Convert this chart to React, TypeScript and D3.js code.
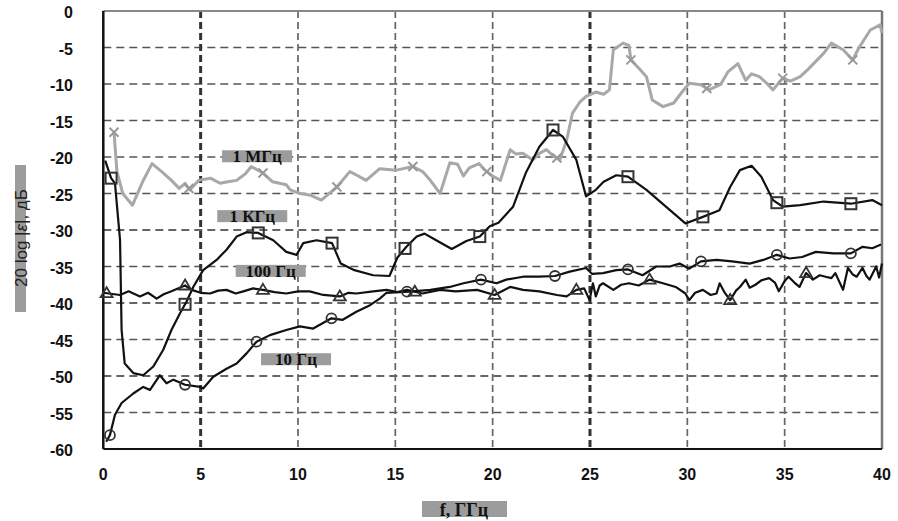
import { useEffect } from 'react'
import * as d3 from 'd3'

type Pt = [number, number]

const xTicks = [0, 5, 10, 15, 20, 25, 30, 35, 40]
const yTicks = [0, -5, -10, -15, -20, -25, -30, -35, -40, -45, -50, -55, -60]

// 1 MHz (gray, x markers)
const mhz1: Pt[] = [
  [0.55, -16.6], [0.7, -22], [1.0, -25], [1.5, -26.6], [2.0, -23.5], [2.5, -20.9],
  [3.0, -22], [3.5, -23.2], [3.9, -24.3], [4.2, -23.6], [4.45, -24.5], [4.9, -23.2],
  [5.5, -22.9], [6.0, -23.6], [6.4, -23.4], [6.85, -23.2], [7.3, -22.3], [7.6, -21.3],
  [8.2, -22.2], [8.7, -23.4], [9.4, -23.8], [9.6, -24.5], [10.1, -25.0], [10.6, -25.2],
  [11.2, -25.9], [12.0, -24.1], [12.66, -22.0], [13.1, -22.6], [13.5, -23.2], [14.2, -21.6],
  [15.06, -21.8], [15.9, -21.3], [16.4, -22.0], [16.8, -23.2], [17.3, -25.0], [17.8, -20.8],
  [18.2, -21.0], [18.5, -22.6], [18.8, -21.5], [19.3, -20.9], [19.6, -21.8], [20.0, -22.6],
  [20.4, -23.2], [20.9, -19.0], [21.2, -19.6], [21.55, -19.5], [22.06, -20.4], [22.4, -19.5],
  [22.76, -19.0], [23.1, -19.8], [23.45, -20.4], [23.8, -17.7], [24.1, -14.0], [24.5, -12.4],
  [24.8, -11.7], [25.3, -11.1], [25.7, -11.4], [26.0, -10.8], [26.2, -5.3], [26.7, -4.4],
  [27.0, -4.7], [27.1, -6.7], [27.5, -7.8], [27.9, -9.0], [28.2, -12.2], [28.75, -13.1],
  [29.3, -12.6], [29.7, -11.2], [30.1, -9.9], [30.7, -10.1], [31.1, -10.8], [31.7, -10.1],
  [32.1, -8.3], [32.6, -7.2], [33.0, -9.5], [33.3, -8.6], [33.7, -9.0], [34.0, -9.7],
  [34.4, -10.8], [34.9, -9.2], [35.3, -9.6], [35.8, -9.0], [36.2, -8.0], [36.6, -6.9],
  [37.0, -5.8], [37.4, -4.4], [38.0, -5.3], [38.5, -6.7], [38.8, -5.1], [39.4, -2.6],
  [39.9, -1.9], [40, -3.0],
]
const mhz1Marks = [0.55, 4.4, 8.2, 12.0, 15.9, 19.7, 23.3, 27.1, 31.0, 34.9, 38.5]

// 1 kHz (squares)
const khz1: Pt[] = [
  [0.1, -20.5], [0.4, -22.9], [0.6, -23.6], [0.86, -31.4], [0.94, -43.7], [1.1, -48.3],
  [1.54, -49.6], [2.05, -49.9], [2.57, -48.7], [3.08, -46.4], [3.5, -43.7], [3.94, -41.4],
  [4.28, -39.8], [4.62, -37.8], [5.13, -35.5], [5.82, -34.1], [6.33, -32.7], [6.85, -30.9],
  [7.36, -30.3], [7.96, -30.4], [8.73, -31.4], [9.4, -33.0], [9.93, -33.4], [10.27, -31.8],
  [10.95, -31.4], [11.75, -31.8], [12.2, -34.6], [12.9, -35.5], [13.86, -36.2], [14.7, -36.3],
  [15.1, -33.8], [15.57, -32.3], [16.1, -30.9], [16.5, -30.5], [17.1, -31.4], [17.9, -32.6],
  [18.65, -31.5], [19.34, -30.9], [19.85, -29.5], [20.3, -29.0], [21.05, -26.8], [21.7, -22.2],
  [22.4, -18.6], [23.1, -16.3], [23.6, -17.2], [24.3, -20.4], [24.8, -25.4], [25.3, -24.5],
  [25.7, -23.4], [26.35, -22.5], [26.95, -22.7], [27.9, -24.5], [28.9, -26.8], [29.9, -29.1],
  [30.8, -28.2], [31.65, -27.3], [32.2, -24.1], [32.7, -21.8], [33.3, -21.2], [33.8, -22.7],
  [34.4, -25.9], [34.9, -26.8], [35.8, -26.6], [37.0, -26.1], [38.4, -26.4], [39.5, -25.9],
  [40, -26.6],
]
const khz1Marks = [0.4, 4.2, 7.96, 11.75, 15.5, 19.34, 23.1, 26.95, 30.8, 34.6, 38.4]

// 100 Hz (triangles)
const hz100: Pt[] = [
  [0, -38.6], [0.86, -38.9], [1.3, -38.4], [1.88, -39.1], [2.3, -38.6], [2.74, -39.4],
  [3.1, -38.8], [3.5, -38.4], [4.2, -37.6], [4.54, -38.2], [5.0, -38.6], [5.48, -38.7],
  [5.9, -38.3], [6.33, -38.2], [6.8, -38.7], [7.19, -38.4], [7.7, -38.0], [8.2, -38.2],
  [8.8, -38.5], [9.4, -38.7], [10.0, -38.4], [10.6, -38.4], [11.3, -38.9], [12.15, -39.1],
  [12.6, -38.6], [13.0, -38.7], [13.86, -38.4], [14.55, -38.2], [15.1, -38.5], [15.6, -38.2],
  [16.4, -38.7], [17.3, -38.2], [18.1, -38.4], [19.2, -38.2], [20.1, -38.9], [20.9, -37.8],
  [21.56, -38.2], [22.4, -38.4], [23.3, -38.9], [23.8, -39.1], [24.3, -38.2], [24.7, -38.0],
  [24.98, -39.6], [25.15, -37.3], [25.3, -39.1], [25.5, -37.6], [25.67, -37.3], [26.2, -38.2],
  [26.6, -37.5], [27.0, -37.3], [27.5, -37.6], [28.06, -36.8], [28.75, -37.3], [29.4, -37.8],
  [29.9, -38.7], [30.1, -39.6], [30.4, -38.6], [30.8, -38.2], [31.2, -38.9], [31.5, -38.7],
  [31.66, -37.3], [31.9, -38.5], [32.2, -39.6], [32.5, -38.3], [32.7, -37.8], [33.0, -36.8],
  [33.2, -37.9], [33.5, -37.5], [33.8, -36.9], [34.2, -36.6], [34.5, -37.2], [34.7, -38.4],
  [35.0, -37.0], [35.2, -36.4], [35.5, -37.2], [35.76, -37.8], [36.1, -35.9], [36.45, -36.8],
  [36.8, -36.2], [37.1, -36.4], [37.4, -36.6], [37.6, -35.9], [38.0, -38.2], [38.25, -35.2],
  [38.5, -36.1], [38.7, -36.4], [39.0, -35.2], [39.2, -36.3], [39.36, -36.8], [39.7, -35.0],
  [39.85, -36.5], [40, -34.6],
]
const hz100Marks = [0.17, 4.2, 8.2, 12.15, 16.0, 20.1, 24.3, 28.06, 32.2, 36.1]

// 10 Hz (circles)
const hz10: Pt[] = [
  [0.15, -59.0], [0.34, -58.1], [0.6, -55.3], [0.94, -53.7], [1.54, -52.4], [2.05, -51.5],
  [2.4, -51.9], [2.9, -49.9], [3.25, -51.0], [3.6, -50.5], [4.2, -51.2], [4.96, -51.5],
  [5.13, -51.7], [5.65, -50.1], [6.33, -49.0], [6.85, -48.3], [7.36, -46.9], [7.87, -45.3],
  [8.56, -44.4], [9.4, -43.7], [10.1, -43.2], [10.78, -43.5], [11.72, -42.1], [12.3, -42.3],
  [13.0, -41.2], [13.7, -40.3], [14.2, -39.4], [14.55, -38.6], [15.2, -38.5], [15.9, -38.4],
  [16.8, -38.2], [17.8, -37.8], [18.5, -37.3], [19.4, -36.8], [20.2, -37.3], [20.7, -36.8],
  [21.56, -36.4], [22.4, -36.4], [23.2, -36.3], [23.96, -35.7], [24.8, -35.2], [25.1, -36.0],
  [25.67, -35.9], [26.35, -35.5], [26.95, -35.4], [27.7, -36.2], [28.4, -35.0], [29.1, -35.0],
  [29.6, -34.6], [30.1, -35.3], [30.7, -34.3], [31.5, -34.1], [32.3, -34.3], [33.2, -34.6],
  [33.9, -34.1], [34.6, -33.4], [35.25, -33.9], [35.9, -33.7], [36.6, -33.0], [37.5, -33.2],
  [38.4, -33.2], [39.0, -32.3], [39.5, -32.5], [39.95, -32.0],
]
const hz10Marks = [0.34, 4.2, 7.87, 11.72, 15.6, 19.4, 23.2, 26.95, 30.7, 34.6, 38.4]

// curve labels: text, anchor point in data units
const labels: { text: string; x: number; y: number }[] = [
  { text: '1 МГц', x: 7.9, y: -19.9 },
  { text: '1 КГц', x: 7.65, y: -28.1 },
  { text: '100 Гц', x: 8.6, y: -35.6 },
  { text: '10 Гц', x: 9.9, y: -47.7 },
]

const W = 898
const H = 521

const x = d3.scaleLinear().domain([0, 40]).range([103.3, 882])
const y = d3.scaleLinear().domain([-60, 0]).range([449, 11])

const line = d3
  .line<Pt>()
  .x((d) => x(d[0]))
  .y((d) => y(d[1]))
  .curve(d3.curveLinear)

const at = (data: Pt[], xv: number): Pt => {
  const i = d3.bisector((d: Pt) => d[0]).left(data, xv)
  if (i <= 0) return data[0]
  if (i >= data.length) return data[data.length - 1]
  const a = data[i - 1]
  const b = data[i]
  const t = (xv - a[0]) / (b[0] - a[0])
  return [xv, a[1] + t * (b[1] - a[1])]
}

const App = () => {
  useEffect(() => {
    document.body.style.margin = '0'
  }, [])

  const tickFont = {
    fontFamily: '"Liberation Sans", Arial, sans-serif',
    fontWeight: 'bold' as const,
    fontSize: 16,
    fill: '#111',
  }
  const serif = '"Liberation Serif", "Times New Roman", serif'

  return (
    <svg width={W} height={H} style={{ display: 'block', background: '#fff' }}>
      {/* grid */}
      {yTicks
        .filter((v) => v !== 0 && v !== -60)
        .map((v) => (
          <line
            key={'h' + v}
            x1={x(0)}
            x2={x(40)}
            y1={y(v)}
            y2={y(v)}
            stroke={v === -50 || v === -40 || v === -30 ? '#333' : '#555'}
            strokeWidth={1.7}
            strokeDasharray="8,5"
          />
        ))}
      {xTicks
        .filter((v) => v !== 0 && v !== 40)
        .map((v) => (
          <line
            key={'v' + v}
            x1={x(v)}
            x2={x(v)}
            y1={y(0)}
            y2={y(-60)}
            stroke={v === 5 || v === 25 ? '#333' : '#666'}
            strokeWidth={v === 5 || v === 25 ? 3 : 1.7}
            strokeDasharray="7,4"
          />
        ))}

      {/* frame */}
      <line x1={x(0)} x2={x(40)} y1={y(0)} y2={y(0)} stroke="#888" strokeWidth={2} />
      <line x1={x(40)} x2={x(40)} y1={y(0)} y2={y(-60)} stroke="#777" strokeWidth={2.5} />
      <line x1={x(0)} x2={x(40)} y1={y(-60)} y2={y(-60)} stroke="#111" strokeWidth={2} />
      <line x1={x(0)} x2={x(0)} y1={y(0)} y2={y(-60)} stroke="#111" strokeWidth={2.5} />

      {/* series */}
      <path d={line(mhz1) ?? ''} fill="none" stroke="#a8a8a8" strokeWidth={3} strokeLinejoin="round" />
      {mhz1Marks.map((m, i) => {
        const p = at(mhz1, m)
        const cx = x(p[0])
        const cy = y(p[1])
        return (
          <path
            key={'x' + i}
            d={`M${cx - 4.5},${cy - 4.5}L${cx + 4.5},${cy + 4.5}M${cx - 4.5},${cy + 4.5}L${cx + 4.5},${cy - 4.5}`}
            stroke="#999"
            strokeWidth={2}
          />
        )
      })}

      <path d={line(khz1) ?? ''} fill="none" stroke="#111" strokeWidth={2.2} strokeLinejoin="round" />
      {khz1Marks.map((m, i) => {
        const p = at(khz1, m)
        return (
          <rect
            key={'s' + i}
            x={x(p[0]) - 5.5}
            y={y(p[1]) - 5.5}
            width={11}
            height={11}
            fill="none"
            stroke="#333"
            strokeWidth={2}
          />
        )
      })}

      <path d={line(hz100) ?? ''} fill="none" stroke="#111" strokeWidth={2.2} strokeLinejoin="round" />
      {hz100Marks.map((m, i) => {
        const p = at(hz100, m)
        const cx = x(p[0])
        const cy = y(p[1])
        return (
          <path
            key={'t' + i}
            d={`M${cx},${cy - 6}L${cx + 6},${cy + 4}L${cx - 6},${cy + 4}Z`}
            fill="none"
            stroke="#333"
            strokeWidth={1.8}
          />
        )
      })}

      <path d={line(hz10) ?? ''} fill="none" stroke="#111" strokeWidth={2.2} strokeLinejoin="round" />
      {hz10Marks.map((m, i) => {
        const p = at(hz10, m)
        return <circle key={'c' + i} cx={x(p[0])} cy={y(p[1])} r={5} fill="none" stroke="#333" strokeWidth={1.8} />
      })}

      {/* curve labels */}
      {labels.map((l) => (
        <g key={l.text}>
          <rect x={x(l.x) - 35} y={y(l.y) - 6} width={70} height={12} fill="#9c9c9c" />
          <text
            x={x(l.x)}
            y={y(l.y) + 6}
            textAnchor="middle"
            style={{ fontFamily: serif, fontSize: 17, fontWeight: 'bold', fill: '#111' }}
          >
            {l.text}
          </text>
        </g>
      ))}

      {/* tick labels */}
      {yTicks.map((v) => (
        <text key={'yl' + v} x={73} y={y(v) + 7} textAnchor="end" style={tickFont}>
          {v}
        </text>
      ))}
      {xTicks.map((v) => (
        <text key={'xl' + v} x={x(v)} y={480} textAnchor="middle" style={tickFont}>
          {v}
        </text>
      ))}

      {/* axis titles */}
      <rect x={422} y={501} width={85} height={16} fill="#9c9c9c" />
      <text
        x={464}
        y={516}
        textAnchor="middle"
        style={{ fontFamily: serif, fontSize: 18, fontWeight: 'bold', fill: '#111' }}
      >
        f, ГГц
      </text>
      <rect x={15} y={165} width={11} height={147} fill="#9c9c9c" />
      <text
        transform="translate(27,238) rotate(-90)"
        textAnchor="middle"
        style={{ fontFamily: '"Liberation Sans", Arial, sans-serif', fontSize: 17, fill: '#222' }}
      >
        20 log |<tspan fontStyle="italic">ε</tspan>|, дБ
      </text>
    </svg>
  )
}

export default App
